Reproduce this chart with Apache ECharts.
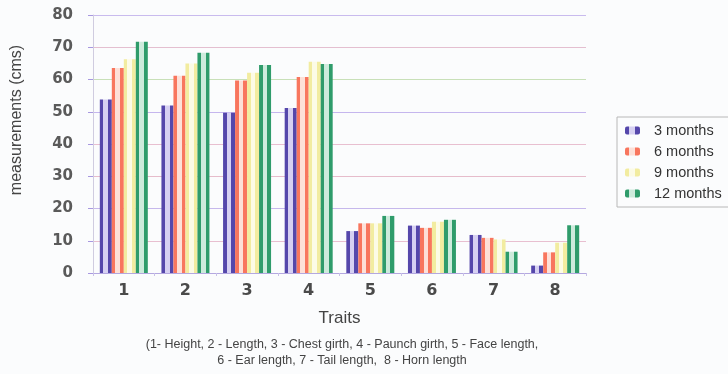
<!DOCTYPE html>
<html>
<head>
<meta charset="utf-8">
<script src="https://cdn.jsdelivr.net/npm/echarts@6/dist/echarts.min.js"></script>
<style>
html,body{margin:0;padding:0;background:#fbfcfd;}
#main{width:728px;height:374px;}
</style>
</head>
<body>
<div id="main"></div>
<script>
var categories = ['1','2','3','4','5','6','7','8'];
var months3 = [53.8, 51.9, 49.7, 51.2, 13.0, 14.7, 11.8, 2.3];
var months6 = [63.6, 61.2, 59.7, 60.8, 15.4, 14.0, 10.9, 6.4];
var months9 = [66.3, 65.0, 62.1, 65.5, 15.4, 15.9, 10.4, 9.4];
var months12 = [71.7, 68.3, 64.5, 64.8, 17.7, 16.5, 6.6, 14.8];
var seriesNames = ['3 months','6 months','9 months','12 months'];
var yTicks = [0,10,20,30,40,50,60,70,80];

function stripe(c, light){
  return new echarts.graphic.LinearGradient(0,0,1,0,[
    {offset:0,color:c},{offset:0.3,color:c},
    {offset:0.3,color:light},{offset:0.68,color:light},
    {offset:0.68,color:c},{offset:1,color:c}
  ]);
}
var styles = [
  stripe('#5547ab','#d6d0f2'),
  stripe('#f8765e','#fde0d8'),
  stripe('#f2eca0','#fcfbe6'),
  stripe('#2f9c6b','#cdebdc')
];
var dataSets = [months3, months6, months9, months12];

var chart = echarts.init(document.getElementById('main'));
var series = seriesNames.map(function(n,i){
  return {
    name:n, type:'bar', data:dataSets[i], barWidth:12, barGap:'0%',
    itemStyle:{color:styles[i]}
  };
});
chart.setOption({
  backgroundColor:'#fbfcfd',
  animation:false,
  grid:{left:93, right:142, top:15, bottom:101},
  legend:{
    orient:'vertical', left:617, top:117,
    data:seriesNames,
    itemWidth:15, itemHeight:8, itemGap:6,
    padding:[6,18,6,8],
    borderColor:'#b8b8b8', borderWidth:1, backgroundColor:'#fbfcfd',
    textStyle:{fontSize:14.5, color:'#333', fontFamily:'Liberation Sans', padding:[0,0,0,9]}
  },
  xAxis:{
    type:'category', data:categories,
    name:'Traits', nameLocation:'middle', nameGap:37,
    nameTextStyle:{fontSize:17, color:'#444', fontFamily:'Liberation Sans'},
    axisLine:{lineStyle:{color:'#b4a8e0'}},
    axisTick:{show:true, length:3, lineStyle:{color:'#c8c0e8'}},
    axisLabel:{fontSize:16, color:'#4a4a4a', fontWeight:'bold', margin:10, fontFamily:'DejaVu Sans'}
  },
  yAxis:{
    type:'value', min:0, max:80, interval:10,
    axisLine:{show:true, lineStyle:{color:'#d0cce0'}},
    axisTick:{show:true, length:5, lineStyle:{color:'#a898e0'}},
    axisLabel:{fontSize:15, color:'#5a5a5a', fontWeight:'bold', margin:20, fontFamily:'DejaVu Sans',
      formatter:function(v){return yTicks.indexOf(v)>=0?String(v):'';}},
    splitLine:{lineStyle:{color:['#cfc3ee','#e8bfd0','#c6b8ec','#e6bccb','#e8bfd0','#c5b6ee','#c8e0b8','#e4bfd0','#c9bbee'], width:1}}
  },
  graphic:[
    {type:'text', x:17, y:120, rotation:Math.PI/2, style:{text:'measurements (cms)', fontSize:16, fill:'#444', fontFamily:'Liberation Sans', align:'center', verticalAlign:'middle'}},
    {type:'text', x:342, y:345, style:{text:'(1- Height, 2 - Length, 3 - Chest girth, 4 - Paunch girth, 5 - Face length,', fontSize:12.5, fill:'#444', fontFamily:'Liberation Sans', align:'center', verticalAlign:'middle'}},
    {type:'text', x:342, y:361, style:{text:'6 - Ear length, 7 - Tail length,  8 - Horn length', fontSize:12.5, fill:'#444', fontFamily:'Liberation Sans', align:'center', verticalAlign:'middle'}}
  ],
  series:series
});
</script>
</body>
</html>
